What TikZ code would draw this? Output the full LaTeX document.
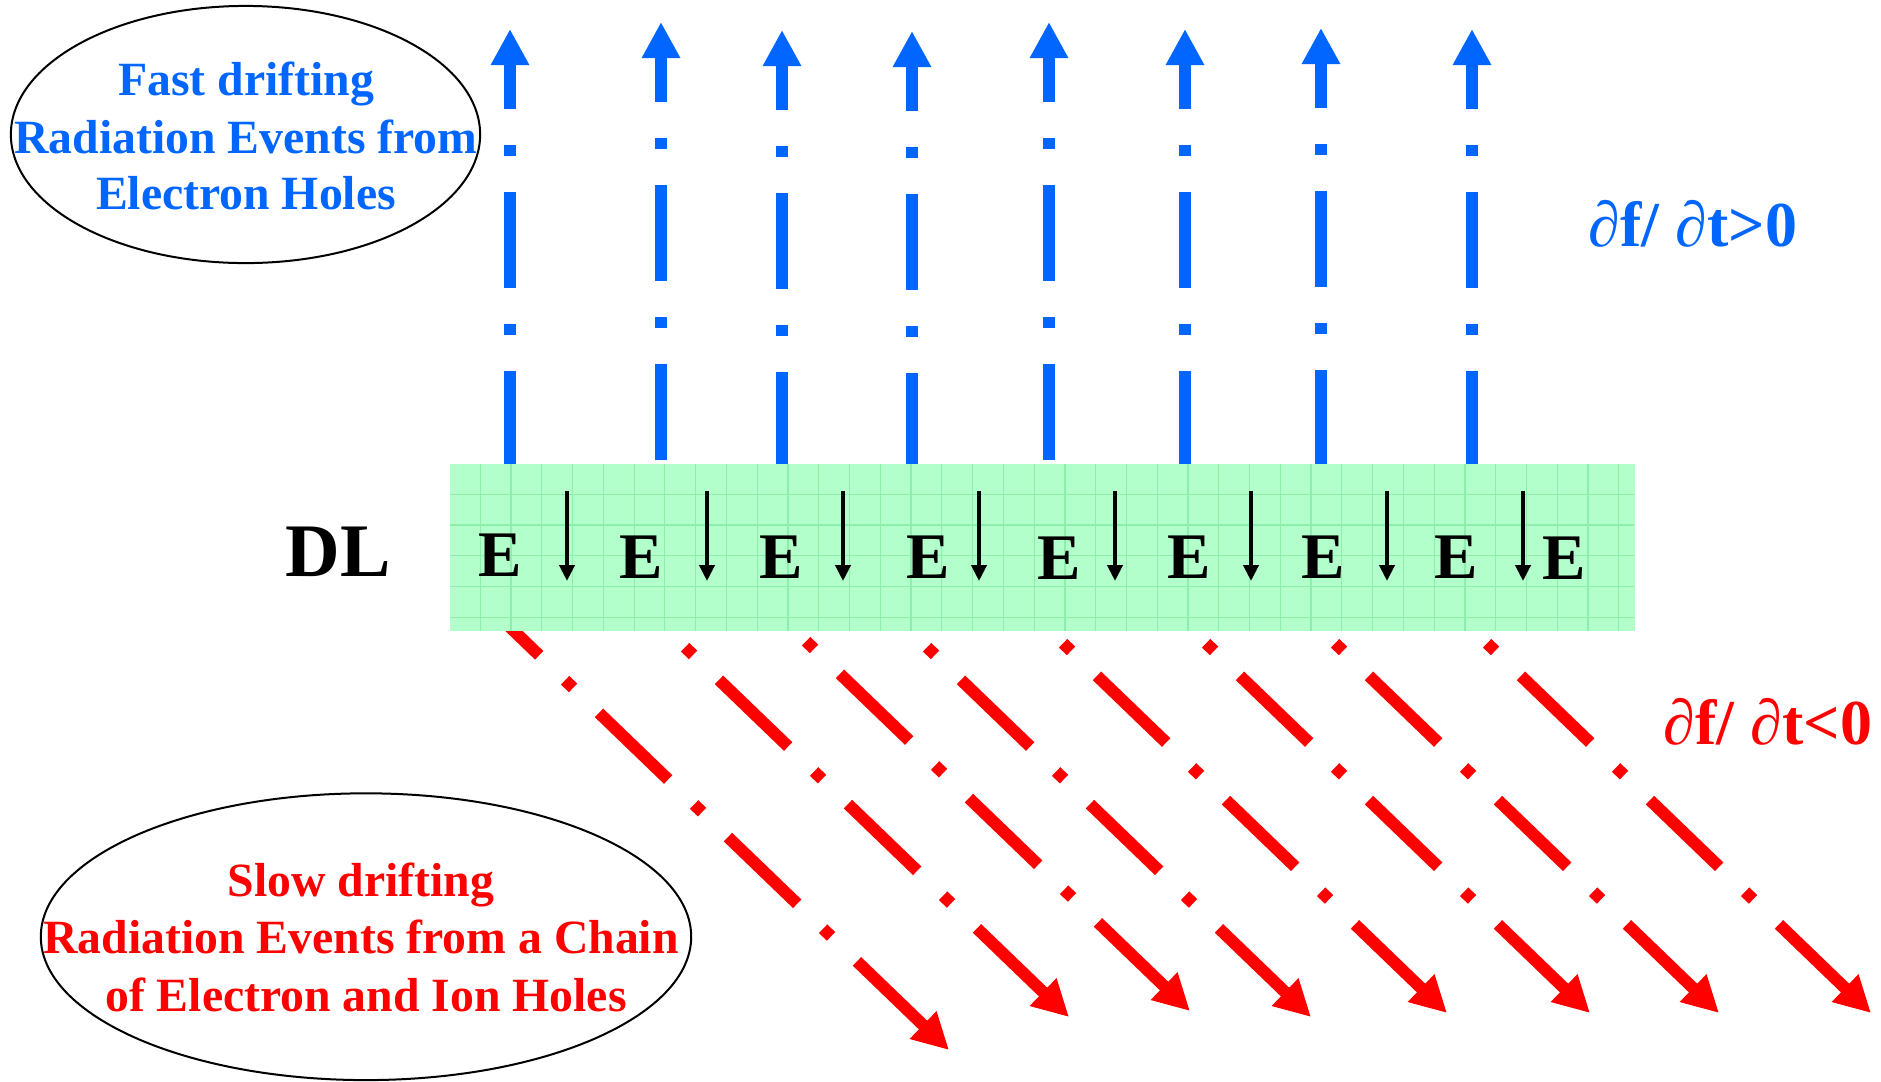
\documentclass[tikz,border=0pt]{standalone}
\usepackage{fontspec}
\setmainfont{Liberation Serif}
\usetikzlibrary{arrows.meta,shapes.geometric}
\definecolor{evblue}{RGB}{0,102,255}
\definecolor{evred}{RGB}{255,0,0}
\definecolor{dlfill}{RGB}{179,255,204}
\definecolor{dlgrid}{RGB}{140,240,170}
\begin{document}
\begin{tikzpicture}[x=0.01cm,y=-0.01cm,
  dashdot/.style={line width=0.12cm, dash pattern=on 0.96cm off 0.36cm on 0.11cm off 0.36cm, -{Triangle[length=0.36cm,width=0.36cm]}},
  fastarrow/.style={dashdot, evblue},
  slowarrow/.style={dashdot, evred},
  efield/.style={black, line width=0.04cm, -{Triangle[length=0.16cm,width=0.15cm]}},
  elabel/.style={font=\fontsize{18.5}{20}\selectfont\bfseries, anchor=base, inner sep=0pt},
  ovaltext/.style={font=\fontsize{13.57}{16}\selectfont\bfseries, anchor=base, inner sep=0pt},
  oval/.style={draw=black, line width=0.02cm, ellipse, inner sep=0pt},
  rate/.style={font=\fontsize{18.2}{20}\selectfont\bfseries, anchor=base, inner sep=0pt},
  gridline/.style={dlgrid, line width=0.012cm}]
\useasboundingbox (0,0) rectangle (1881,1081);

% slow (red) arrows
\foreach \dx/\dy [count=\i] in {569/684, 689/651, 810/645, 931/651, 1067/647, 1210/647, 1339/647, 1491/647}{
  \coordinate (rs\i) at ({\dx-99.03},{\dy-95.38});
  \coordinate (rt\i) at ({\dx+380},{\dy+366});
  \draw[slowarrow] (rs\i) -- (rt\i);
}

% fast (blue) arrows
\foreach \x/\b [count=\i] in {510/467, 661/460, 782/468, 912/469, 1049/460, 1185/467, 1321/466, 1472/467}{
  \coordinate (bs\i) at (\x,\b);
  \coordinate (bt\i) at (\x,{\b-438});
  \draw[fastarrow] (bs\i) -- (bt\i);
}

% double layer box
\node[fill=dlfill, minimum width=11.845cm, minimum height=1.675cm, inner sep=0pt, outer sep=0pt, anchor=north west] (dl) at (449.5,463.5) {};
\foreach \k in {1,...,38}{
  \draw[gridline] ({449.5+30.77*\k},463.5) -- ({449.5+30.77*\k},631);
}
\foreach \k in {1,...,5}{
  \draw[gridline] (449.5,{463.5+30.77*\k}) -- (1634,{463.5+30.77*\k});
}

% E letters
\foreach \x/\b [count=\i] in {500/576, 641/578.5, 781/578.5, 928/578.5, 1059/579, 1189/578.5, 1323/578.5, 1456/578.5, 1564/579}{
  \node[elabel] (e\i) at (\x,\b) {E};
}
% field arrows
\foreach \x [count=\i] in {567, 707, 843, 979, 1115, 1251, 1387, 1523}{
  \coordinate (fa\i) at (\x,491);
  \coordinate (fb\i) at (\x,581);
  \draw[efield] (fa\i) -- (fb\i);
}

\node[font=\fontsize{21.5}{24}\selectfont\bfseries, anchor=base, inner sep=0pt] (dltext) at (338.3,576.7) {DL};

% ovals
\node[oval, minimum width=4.69cm, minimum height=2.57cm] (fastoval) at (245.5,134.5) {};
\node[ovaltext, evblue] (f1) at (246,95) {Fast drifting};
\node[ovaltext, evblue] (f2) at (246,153) {Radiation Events from};
\node[ovaltext, evblue] (f3) at (246,209) {Electron Holes};

\node[oval, minimum width=6.5cm, minimum height=2.866cm] (slowoval) at (366,936.7) {};
\node[ovaltext, evred] (s1) at (361,896.7) {Slow drifting};
\node[ovaltext, evred] (s2) at (361,953.3) {Radiation Events from a Chain};
\node[ovaltext, evred] (s3) at (366,1011) {of Electron and Ion Holes};

% rate labels
\node[rate, evblue] (pos) at (1693,246) {∂f/ ∂t>0};
\node[rate, evred] (neg) at (1768,744) {∂f/ ∂t<0};
\end{tikzpicture}
\end{document}
